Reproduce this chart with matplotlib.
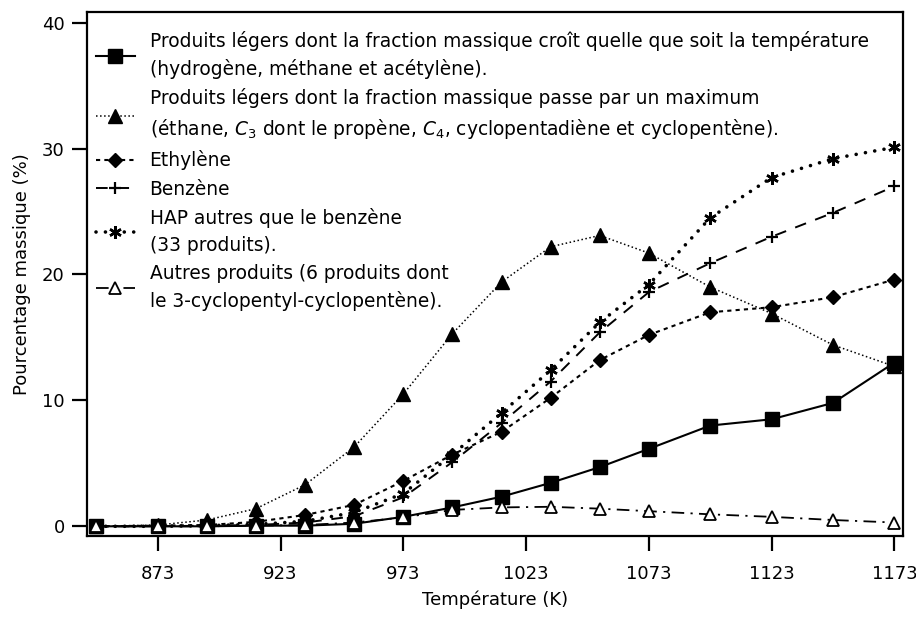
import matplotlib
matplotlib.use("Agg")
import matplotlib.pyplot as plt

# --------------------------------------------------
# Data
# --------------------------------------------------

temperature = [848, 873, 893, 913, 933, 953, 973, 993,
               1013, 1033, 1053, 1073, 1098, 1123, 1148, 1173]

legers_croissants = [0.0, 0.0, 0.0, 0.05, 0.05, 0.2, 0.75, 1.5,
                     2.35, 3.45, 4.7, 6.15, 8.0, 8.5, 9.8, 13.0]

legers_maximum = [0.0, 0.1, 0.5, 1.4, 3.3, 6.3, 10.5, 15.3,
                  19.4, 22.2, 23.1, 21.7, 19.0, 16.9, 14.4, 12.7]

ethylene = [0.0, 0.05, 0.1, 0.35, 0.9, 1.7, 3.6, 5.7,
            7.5, 10.2, 13.2, 15.2, 17.0, 17.4, 18.2, 19.6]

benzene = [0.0, 0.0, 0.05, 0.1, 0.3, 0.8, 2.3, 5.1,
           8.2, 11.5, 15.4, 18.6, 20.9, 23.0, 24.9, 27.0]

hap = [0.0, 0.0, 0.05, 0.15, 0.4, 1.1, 2.6, 5.7,
       9.0, 12.4, 16.2, 19.2, 24.5, 27.7, 29.2, 30.1]

autres = [0.0, 0.0, 0.0, 0.05, 0.1, 0.3, 0.7, 1.3,
          1.5, 1.55, 1.4, 1.2, 0.95, 0.75, 0.5, 0.3]

labels = [
    "Produits légers dont la fraction massique croît quelle que soit la température\n"
    "(hydrogène, méthane et acétylène).",
    "Produits légers dont la fraction massique passe par un maximum\n"
    "(éthane, $C_3$ dont le propène, $C_4$, cyclopentadiène et cyclopentène).",
    "Ethylène",
    "Benzène",
    "HAP autres que le benzène\n(33 produits).",
    "Autres produits (6 produits dont\nle 3-cyclopentyl-cyclopentène).",
]

x_ticks = [873, 923, 973, 1023, 1073, 1123, 1173]
y_ticks = [0, 10, 20, 30, 40]

# --------------------------------------------------
# Figure
# --------------------------------------------------

plt.rcParams["font.family"] = ["DejaVu Sans"]
plt.rcParams["mathtext.fontset"] = "dejavusans"

fig = plt.figure(figsize=(9.16, 6.17), dpi=100)
ax = fig.add_axes([0.095, 0.1313, 0.8908, 0.8493])

ax.plot(temperature, legers_croissants, color="black", lw=1.5,
        linestyle="-", marker="s", markersize=9.5, label=labels[0])

ax.plot(temperature, legers_maximum, color="black", lw=1.1,
        linestyle=":", marker="^", markersize=9.5, label=labels[1])

ax.plot(temperature, ethylene, color="black", lw=1.5,
        linestyle=(0, (2, 2)), marker="D", markersize=7, label=labels[2])

ax.plot(temperature, benzene, color="black", lw=1.4,
        linestyle=(0, (6, 5)), marker="+", markersize=9,
        markeredgewidth=1.6, label=labels[3])

ax.plot(temperature, hap, color="black", lw=2.6,
        linestyle=(0, (0.01, 2.6)), dash_capstyle="round",
        marker=(6, 2, 0), markersize=9, markeredgewidth=1.8,
        label=labels[4])

ax.plot(temperature, autres, color="black", lw=1.3,
        linestyle=(0, (7, 3.5, 1.2, 3.5)), marker="^", markersize=8,
        markerfacecolor="white", markeredgewidth=1.3, label=labels[5])

# --------------------------------------------------
# Axes
# --------------------------------------------------

ax.set_xlim(844.2, 1176.5)
ax.set_ylim(-0.77, 40.85)

ax.set_xticks(x_ticks)
ax.set_yticks(y_ticks)

ax.tick_params(axis="both", direction="out", length=11, width=1.6,
               labelsize=13)
ax.tick_params(axis="x", pad=10)
ax.tick_params(axis="y", pad=5)

for spine in ax.spines.values():
    spine.set_linewidth(1.6)

ax.set_xlabel("Température (K)", fontsize=13, labelpad=5)
ax.set_ylabel("Pourcentage massique (%)", fontsize=13, labelpad=8)

leg = ax.legend(loc="upper left", bbox_to_anchor=(-0.01, 0.996),
                frameon=False, fontsize=13.4,
                handlelength=2.1, handletextpad=0.8, labelspacing=0.5,
                borderaxespad=0.5, borderpad=0.4)

for text in leg.get_texts():
    text.set_linespacing(1.5)

plt.savefig("out.png", dpi=100)
plt.close()
